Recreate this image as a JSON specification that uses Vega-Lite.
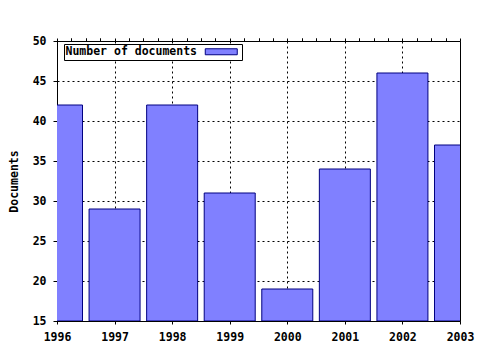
{
  "$schema": "https://vega.github.io/schema/vega-lite/v6.json",
  "width": 403,
  "height": 280,
  "autosize": {"type": "none"},
  "padding": {"left": 57, "top": 41, "right": 20, "bottom": 29},
  "background": "white",
  "data": {"values": [
    {"year": 1996, "documents": 42},
    {"year": 1997, "documents": 29},
    {"year": 1998, "documents": 42},
    {"year": 1999, "documents": 31},
    {"year": 2000, "documents": 19},
    {"year": 2001, "documents": 34},
    {"year": 2002, "documents": 46},
    {"year": 2003, "documents": 37}
  ]},
  "config": {
    "view": {"stroke": "black", "strokeWidth": 1},
    "axis": {
      "labelFont": "DejaVu Sans Mono", "labelFontWeight": "bold", "labelFontSize": 11.5, "labelColor": "black",
      "titleFont": "DejaVu Sans Mono", "titleFontWeight": "bold", "titleFontSize": 11.5, "titleColor": "black",
      "domainColor": "black", "tickColor": "black", "gridColor": "black", "gridDash": [2, 3], "gridOpacity": 1
    },
    "legend": {
      "labelFont": "DejaVu Sans Mono", "labelFontWeight": "bold", "labelFontSize": 11.5, "labelColor": "black"
    }
  },
  "resolve": {"axis": {"x": "independent"}},
  "layer": [
    {
      "mark": {"type": "bar", "size": 51, "clip": true, "stroke": "#000080", "strokeWidth": 1},
      "encoding": {
        "x": {"field": "year", "type": "quantitative",
          "scale": {"domain": [1996, 2003], "nice": false, "zero": false, "padding": 0},
          "axis": {"values": [1996, 1997, 1998, 1999, 2000, 2001, 2002, 2003], "format": "d", "grid": true, "tickSize": 3, "labelPadding": 7, "title": null, "labelFlush": false}},
        "y": {"field": "documents", "type": "quantitative",
          "scale": {"domain": [15, 50], "nice": false, "zero": false},
          "axis": {"values": [15, 20, 25, 30, 35, 40, 45, 50], "grid": true, "tickSize": 4, "labelPadding": 7, "title": "Documents", "titlePadding": 13}},
        "y2": {"datum": 15},
        "color": {"datum": "Number of documents", "type": "nominal",
          "scale": {"range": ["#8080ff"]},
          "legend": {"title": null, "orient": "none", "legendX": 7, "legendY": 3,
            "symbolType": "M-4,-0.75H4V0.75H-4Z", "symbolSize": 64, "symbolStrokeColor": "#000080", "symbolStrokeWidth": 1,
            "symbolOffset": 149.5, "labelOffset": -161.5,
            "strokeColor": "black", "fillColor": "white", "padding": 2}}
      }
    },
    {
      "mark": {"type": "point", "opacity": 0},
      "encoding": {
        "x": {"field": "year", "type": "quantitative",
          "axis": {"values": [1996.25, 1996.5, 1996.75, 1997.25, 1997.5, 1997.75, 1998.25, 1998.5, 1998.75, 1999.25, 1999.5, 1999.75, 2000.25, 2000.5, 2000.75, 2001.25, 2001.5, 2001.75, 2002.25, 2002.5, 2002.75],
            "labels": false, "grid": false, "domain": false, "tickSize": 3, "title": null}}
      }
    },
    {
      "mark": {"type": "point", "opacity": 0},
      "encoding": {
        "x": {"field": "year", "type": "quantitative",
          "axis": {"orient": "top", "values": [1996, 1996.25, 1996.5, 1996.75, 1997, 1997.25, 1997.5, 1997.75, 1998, 1998.25, 1998.5, 1998.75, 1999, 1999.25, 1999.5, 1999.75, 2000, 2000.25, 2000.5, 2000.75, 2001, 2001.25, 2001.5, 2001.75, 2002, 2002.25, 2002.5, 2002.75, 2003],
            "labels": false, "grid": false, "domain": false, "tickSize": 3, "title": null}}
      }
    }
  ]
}
